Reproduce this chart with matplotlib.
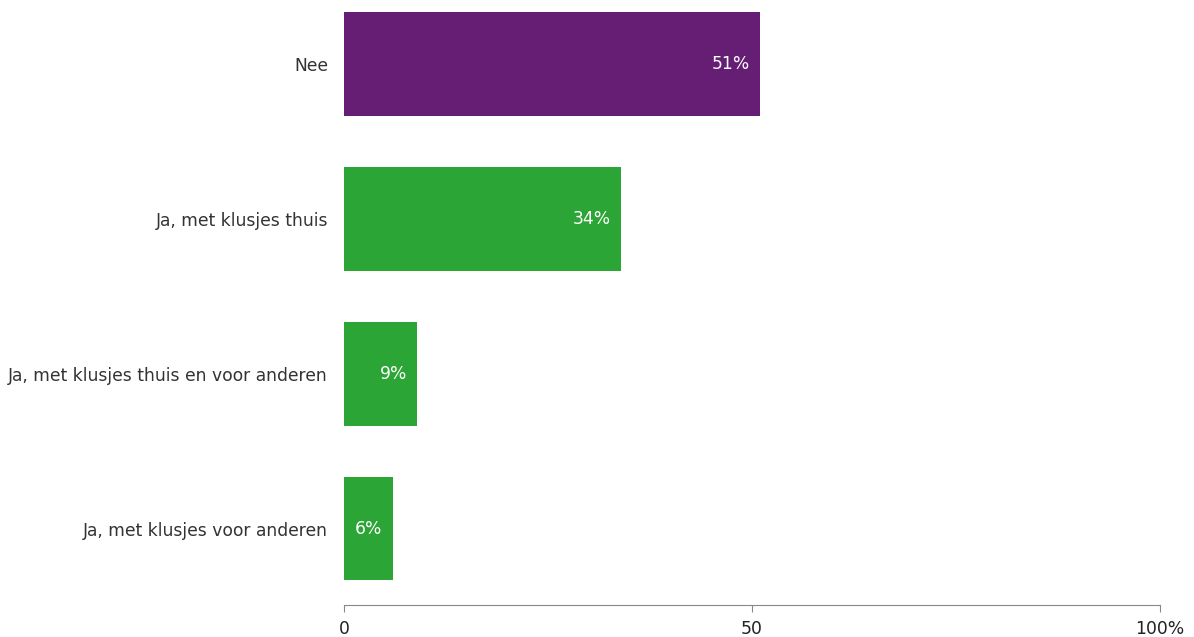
import matplotlib.pyplot as plt
import numpy as np

plt.rcParams['font.family'] = ['DejaVu Sans']

categories = ["Nee", "Ja, met klusjes thuis", "Ja, met klusjes thuis en voor anderen",
              "Ja, met klusjes voor anderen"]
values = [51, 34, 9, 6]
labels = ["51%", "34%", "9%", "6%"]
colors = ["#661e75", "#2ba535", "#2ba535", "#2ba535"]
xticks = [0, 50, 100]
xticklabels = ["0", "50", "100%"]

fig = plt.figure(figsize=(11.94, 6.37), dpi=100)
ax = fig.add_axes([344/1194, 1 - 605/637, (1160 - 344)/1194, 605/637])

y = np.arange(len(categories))
ax.barh(y, values, height=0.67, color=colors)

for i, v in enumerate(values):
    ax.text(v - 1.3, i, labels[i], ha="right", va="center", color="white", fontsize=12.3)

ax.set_xlim(0, 100)
ax.set_ylim(3.494, -0.413)
ax.set_yticks(y)
ax.set_yticklabels(categories, fontsize=12.3, color="#333333")
ax.tick_params(axis="y", length=0, pad=11.5)
ax.set_xticks(xticks)
ax.set_xticklabels(xticklabels, fontsize=12.4, color="#222222")
ax.tick_params(axis="x", length=5, color="#888888", pad=6)

for s in ["top", "right", "left"]:
    ax.spines[s].set_visible(False)
ax.spines["bottom"].set_color("#888888")

fig.savefig("out.png", dpi=100)
